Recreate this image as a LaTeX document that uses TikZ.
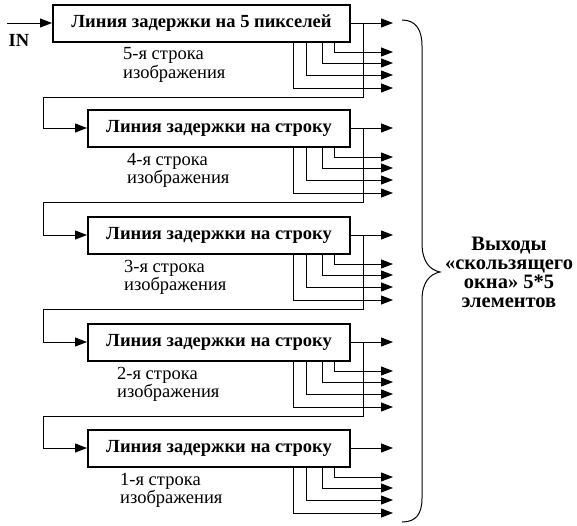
\documentclass[tikz,border=0pt]{standalone}
\usepackage{fontspec}
\setmainfont{Liberation Serif}
\usetikzlibrary{arrows.meta}

\begin{document}
\begin{tikzpicture}[x=1pt,y=-1pt]
        \tikzstyle{every node}=[font=\fontsize{18.5}{17}\selectfont]
        \tikzstyle{delay}=[draw,line width=2pt,minimum height=37pt,inner sep=0pt,font=\fontsize{18.5}{17}\selectfont\bfseries]
        \tikzstyle{wire}=[line width=1pt]
        \tikzstyle{tap}=[wire,-{Triangle[length=12pt,width=9pt]}]
        \useasboundingbox (0,0) rectangle (577,525);
        % delay lines
        \node[delay,minimum width=297pt] (b1) at (201.5,23) {Линия задержки на 5 пикселей};
        \foreach \i/\y in {2/128,3/235,4/342,5/448}
            \node[delay,minimum width=262pt] (b\i) at (219,\y) {Линия задержки на строку};
        % input
        \coordinate (in) at (7,23);
        \draw[tap] (in) -- (b1);
        \node (inlab) at (19,40) {\bfseries IN};
        % row labels and outputs
        \foreach \i/\y/\x/\n in {1/23/123/5,2/128/127/4,3/235/124/3,4/342/117/2,5/448/120/1} {
            \node[anchor=west,align=left,inner sep=0pt] (lab\i) at (\x,\y+42) {\n-я строка\\изображения};
            \coordinate (o\i) at (393,\y);
            \draw[tap] (b\i) -- (o\i);
            \foreach \k/\tx/\dy in {1/334/29,2/322/40,3/306/52,4/293/65} {
                \coordinate (o\i\k) at (393,\y+\dy);
                \draw[tap] (b\i.south -| \tx,0) |- (o\i\k);
            }
        }
        % feedback to the next line
        \foreach \i/\y/\j in {1/23/2,2/128/3,3/235/4,4/342/5} {
            \coordinate (fb\i) at (363,\y+74);
            \coordinate (turn\i) at (43,\y+74);
            \draw[tap] (b\i.east -| fb\i) -- (fb\i) -- (turn\i) |- (b\j);
        }
        % brace
        \draw[wire] (402,20) .. controls (416,20) and (422,30) .. (422,46) -- (422,243)
            .. controls (422,262) and (430,270) .. (440,272)
            .. controls (430,274) and (422,282) .. (422,300) -- (422,498)
            .. controls (422,514) and (416,522) .. (402,522);
        \node[align=center,font=\fontsize{20.5}{19}\selectfont\bfseries] (win) at (509,272) {Выходы\\«скользящего\\окна» 5*5\\элементов};
\end{tikzpicture}
\end{document}
